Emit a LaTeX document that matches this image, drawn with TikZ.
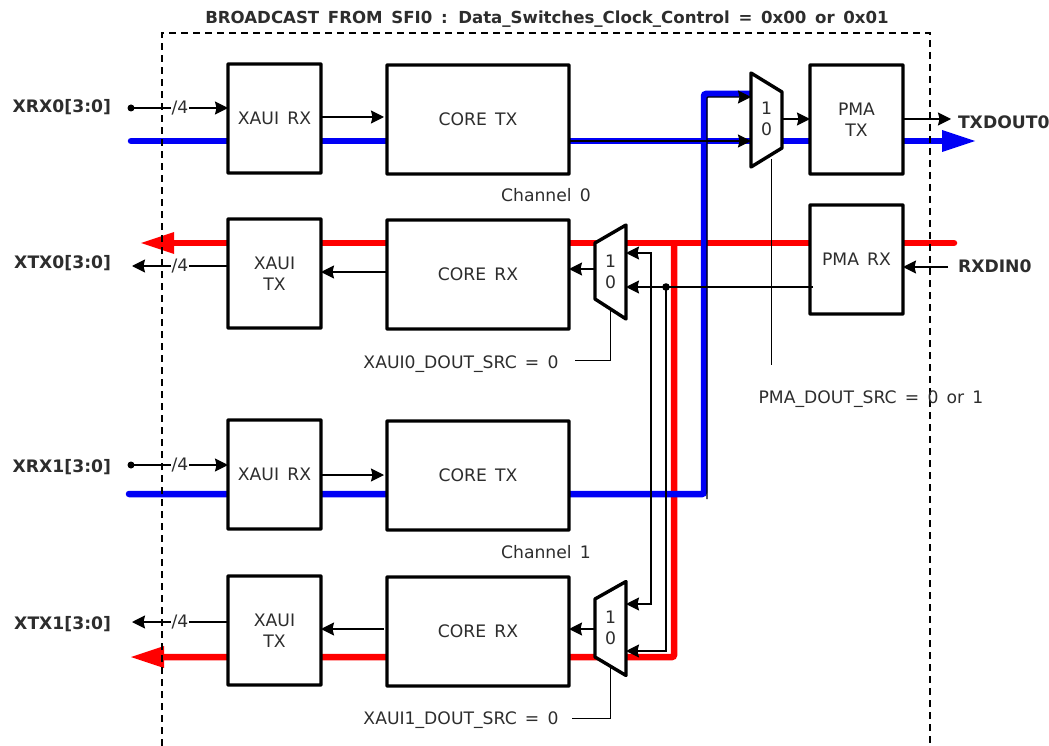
\documentclass[tikz,border=0pt]{standalone}
\usepackage{fontspec}
\setmainfont[WordSpace=1.5]{DejaVu Sans}
\usetikzlibrary{arrows.meta,calc}
\definecolor{busblue}{RGB}{0,0,245}
\definecolor{busred}{RGB}{255,0,0}
\definecolor{ink}{RGB}{45,45,45}
\tikzset{
 x=1pt,y=-1pt,
 every node/.style={inner sep=0pt,outer sep=0pt,text=ink,font=\fontsize{17.2}{21}\selectfont},
 block/.style={draw=black,line width=3.4pt,fill=white,align=center,anchor=north west,rounded corners=0.5pt},
 tip/.tip={Stealth[length=13pt,width=13pt,inset=1.5pt]},
 wire/.style={draw=black,line width=1.4pt,-tip},
 wireboth/.style={draw=black,line width=1.4pt,tip-tip},
 ctrl/.style={draw=black,line width=1pt},
 bluebus/.style={draw=busblue,line width=6.5pt},
 redbus/.style={draw=busred,line width=6.5pt},
 pin/.style={font=\fontsize{17.2}{20}\selectfont\bfseries,anchor=east},
 pinr/.style={font=\fontsize{17.2}{20}\selectfont\bfseries,anchor=west},
 muxbody/.style={draw=black,line width=3.4pt,fill=white,line join=round},
 muxref/.style={minimum width=31pt,minimum height=94pt,anchor=center},
 muxtext/.style={align=center},
 wlabel/.style={fill=white,inner xsep=1pt},
}
\begin{document}
\begin{tikzpicture}
\useasboundingbox (0,0) rectangle (1049,746);
% thick buses, drawn first
\coordinate (bi0) at (131,141);
\coordinate (bi1) at (129,494);
\coordinate (bo0) at (975,141);
\coordinate (ro0) at (141,243);
\coordinate (ro1) at (131,657);
\coordinate (ri0) at (954,243);
\coordinate (vb) at (704,94);
\coordinate (vr) at (674,243);
\coordinate (muxT) at (751,94);
\coordinate (vrb) at (674,657);
\coordinate (vbb) at (704,494);
\draw[redbus,line cap=round,line join=round] (ri0) -- (vr) -- (569,243);
\draw[redbus] (569,243) -- (174,243);
\fill[busred] (ro0) -- (174,232) -- (174,254) -- cycle;
\draw[redbus,rounded corners=2pt] (vr) -- (vrb) -- (164,657);
\fill[busred] (ro1) -- (164,646) -- (164,668) -- cycle;
\draw[bluebus,line cap=round] (bi0) -- (942,141);
\fill[busblue] (bo0) -- (942,130) -- (942,152) -- cycle;
\draw[bluebus,line cap=round,rounded corners=2pt] (bi1) -- (vbb) -- (vb) -- (muxT);
% frame
\draw[line width=2pt,dash pattern=on 7pt off 5pt] (162,746) -- (162,33) -- (930,33) -- (930,746);
\node[font=\fontsize{16.6}{20}\selectfont\bfseries] (title) at (547,19) {BROADCAST FROM SFI0 : Data\_Switches\_Clock\_Control = 0x00 or 0x01};
% blocks
\node[block,minimum width=93pt,minimum height=109pt] (xr0) at (228,64) {XAUI RX};
\node[block,minimum width=182pt,minimum height=109pt] (ct0) at (387,65) {CORE TX};
\node[block,minimum width=93pt,minimum height=109pt] (xt0) at (228,219) {XAUI\\TX};
\node[block,minimum width=182pt,minimum height=109pt] (cr0) at (387,220) {CORE RX};
\node[block,minimum width=93pt,minimum height=109pt] (pt) at (810,65) {PMA\\TX};
\node[block,minimum width=93pt,minimum height=109pt] (pr) at (810,205) {PMA RX};
\node[block,minimum width=93pt,minimum height=109pt] (xr1) at (228,420) {XAUI RX};
\node[block,minimum width=182pt,minimum height=109pt] (ct1) at (387,421) {CORE TX};
\node[block,minimum width=93pt,minimum height=109pt] (xt1) at (228,576) {XAUI\\TX};
\node[block,minimum width=182pt,minimum height=109pt] (cr1) at (387,577) {CORE RX};
% muxes
\node[muxref] (m0) at (766.5,120) {};
\node[muxref] (m1) at (610.5,272) {};
\node[muxref] (m2) at (610.5,628.5) {};
\draw[muxbody] (m0.north west) -- (m0.east |- 0,92) -- (m0.east |- 0,148) -- (m0.south west) -- cycle;
\draw[muxbody] (m1.north east) -- (m1.west |- 0,243) -- (m1.west |- 0,299) -- (m1.south east) -- cycle;
\draw[muxbody] (m2.north east) -- (m2.west |- 0,599) -- (m2.west |- 0,657) -- (m2.south east) -- cycle;
\node[muxtext] (m0t) at (766.5,119) {1\\0};
\node[muxtext] (m1t) at (610.5,272) {1\\0};
\node[muxtext] (m2t) at (610.5,628) {1\\0};
% thin connectors
\coordinate (dotp) at (666,287);
\coordinate (rxin) at (948,267);
\coordinate (dot0) at (131,108);
\coordinate (dot1) at (131,465);
\coordinate (tx0end) at (132,266);
\coordinate (tx1end) at (132,622);
\coordinate (txout) at (951,119);
\draw[wire,shorten >=3pt] (xr0.east |- 0,117) -- (ct0.west |- 0,117);
\draw[wire,shorten >=3pt] (xr1.east |- 0,475) -- (ct1.west |- 0,475);
\draw[wire] (ct0.east |- 0,141) -- (m0.west |- 0,141);
\draw[wire,rounded corners=1pt] (707,499) -- (707,97) -- (m0.west |- 0,97);
\draw[wire] (m0.east |- 0,119) -- (pt.west |- 0,119);
\draw[wire] (pt.east |- 0,119) -- (txout);
\draw[wire] (rxin) -- (pr.east |- rxin);
\draw[wire] (pr.west |- dotp) ++(3,0) -- (m1.east |- dotp);
\draw[wire] (dotp) |- (m2.east |- 0,651);
\draw[wireboth] (m2.east |- 0,604) -| (651,253) -- (m1.east |- 0,253);
\draw[wire] (m1.west |- 0,269) -- (cr0.east |- 0,269);
\draw[wire] (m2.west |- 0,629) -- (cr1.east |- 0,629);
\draw[wire] (cr0.west |- 0,272) -- (xt0.east |- 0,272);
\draw[wire,shorten <=3pt] (cr1.west |- 0,629) -- (xt1.east |- 0,629);
\fill[black] (dotp) circle (3.8pt);
\fill[black] (dot0) circle (3.5pt);
\fill[black] (dot1) circle (3.5pt);
\draw[wire] (dot0) -- (xr0.west |- dot0);
\draw[wire] (dot1) -- (xr1.west |- dot1);
\draw[wire] (xt0.west |- tx0end) -- (tx0end);
\draw[wire] (xt1.west |- tx1end) -- (tx1end);
\node[wlabel] (w0) at (180,108) {/4};
\node[wlabel] (w1) at (180,465) {/4};
\node[wlabel] (w2) at (180,266) {/4};
\node[wlabel] (w3) at (180,622) {/4};
% select lines
\coordinate (s0) at (771,365);
\coordinate (s1) at (610,360);
\coordinate (s1e) at (575,360);
\coordinate (s2) at (610,718);
\coordinate (s2e) at (572,718);
\draw[ctrl] (771,159) -- (s0);
\draw[ctrl] (610,310) -- (s1) -- (s1e);
\draw[ctrl] (610,666) -- (s2) -- (s2e);
% labels
\node (c0) at (546,195) {Channel 0};
\node (c1) at (546,552) {Channel 1};
\node (l0) at (461,364) {XAUI0\_DOUT\_SRC = 0};
\node (l1) at (461,720) {XAUI1\_DOUT\_SRC = 0};
\node (l2) at (871,399) {PMA\_DOUT\_SRC = 0 or 1};
\node[pin] (p0) at (111,107) {XRX0[3:0]};
\node[pin] (p1) at (111,263) {XTX0[3:0]};
\node[pin] (p2) at (111,467) {XRX1[3:0]};
\node[pin] (p3) at (111,624) {XTX1[3:0]};
\node[pinr] (p4) at (958,122) {TXDOUT0};
\node[pinr] (p5) at (958,266) {RXDIN0};
\end{tikzpicture}
\end{document}
